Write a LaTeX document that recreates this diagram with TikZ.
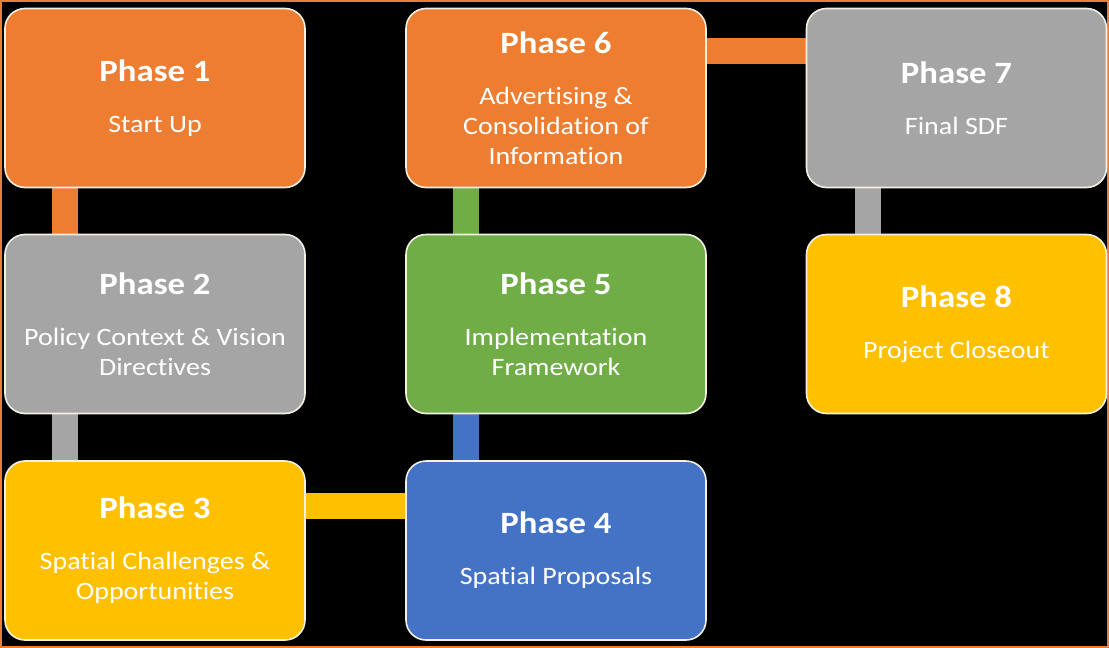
\documentclass[tikz,border=0pt]{standalone}
\usepackage{fontspec}
\setmainfont[FakeStretch=1.12,Ligatures=NoCommon]{Carlito}
\usetikzlibrary{backgrounds}
\definecolor{cOrange}{HTML}{ED7D31}
\definecolor{cGray}{HTML}{A5A5A5}
\definecolor{cYellow}{HTML}{FFC000}
\definecolor{cBlue}{HTML}{4472C4}
\definecolor{cGreen}{HTML}{70AD47}
\definecolor{cEdge}{HTML}{F4F1E4}
\tikzset{
  phasebox/.style={draw=cEdge, line width=1.6pt, rounded corners=20pt,
    minimum width=300pt, minimum height=179pt, inner sep=0pt,
    align=center, text=white, font=\fontsize{25}{30}\selectfont},
  link/.style={line width=26pt, line cap=butt},
}
\newcommand{\phtitle}[1]{{\fontsize{31}{30}\selectfont\bfseries #1}\\[21pt]}
\begin{document}
\begin{tikzpicture}[x=1pt,y=-1pt]
\begin{scope}[on background layer]
  \fill[cOrange] (0,0) rectangle (1109,648);
  \fill[black] (2,2) rectangle (1107,646);
\end{scope}
\useasboundingbox (0,0) rectangle (1109,648);

\node[phasebox, fill=cOrange] (p1) at (155,98) {\phtitle{Phase 1}Start Up};
\node[phasebox, fill=cGray]   (p2) at (155,324) {\phtitle{Phase 2}Policy Context \& Vision\\Directives};
\node[phasebox, fill=cYellow] (p3) at (155,550.5) {\phtitle{Phase 3}Spatial Challenges \&\\Opportunities};
\node[phasebox, fill=cBlue]   (p4) at (556,550.5) {\phtitle{Phase 4}Spatial Proposals};
\node[phasebox, fill=cGreen]  (p5) at (556,324) {\phtitle{Phase 5}Implementation\\Framework};
\node[phasebox, fill=cOrange] (p6) at (556,98) {\phtitle{Phase 6}Advertising \&\\Consolidation of\\Information};
\node[phasebox, fill=cGray]   (p7) at (956.5,98) {\phtitle{Phase 7}Final SDF};
\node[phasebox, fill=cYellow] (p8) at (956.5,324) {\phtitle{Phase 8}Project Closeout};

\begin{scope}[on background layer]
  \draw[link, cOrange] ([xshift=-90pt]p1.south) -- ([xshift=-90pt]p2.north);
  \draw[link, cGray]   ([xshift=-90pt]p2.south) -- ([xshift=-90pt]p3.north);
  \draw[link, cYellow] ([yshift=44.5pt]p3.east) -- ([yshift=44.5pt]p4.west);
  \draw[link, cBlue]   ([xshift=-90pt]p4.north) -- ([xshift=-90pt]p5.south);
  \draw[link, cGreen]  ([xshift=-90pt]p5.north) -- ([xshift=-90pt]p6.south);
  \draw[link, cOrange] ([yshift=47pt]p6.east) -- ([yshift=47pt]p7.west);
  \draw[link, cGray]   ([xshift=-88.5pt]p7.south) -- ([xshift=-88.5pt]p8.north);
\end{scope}
\end{tikzpicture}
\end{document}
